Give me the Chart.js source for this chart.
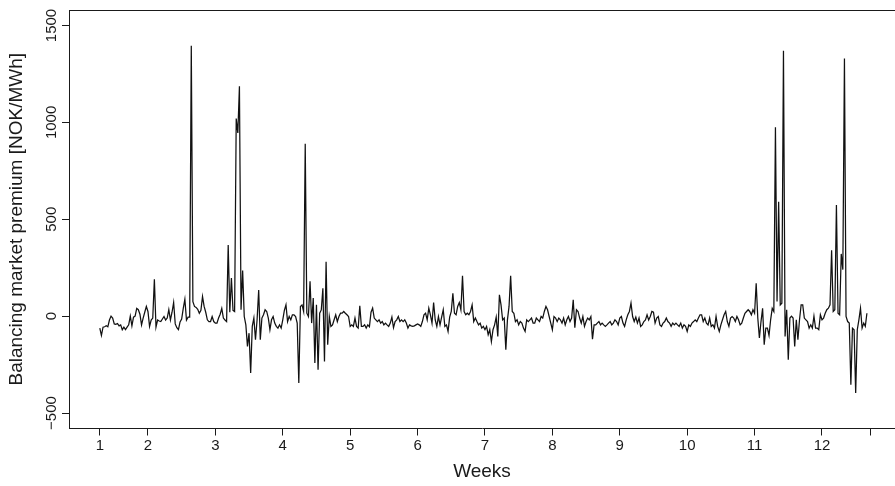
<!DOCTYPE html>
<html>
<head>
<meta charset="utf-8">
<script src="https://cdn.jsdelivr.net/npm/chart.js@4.4.1/dist/chart.umd.min.js"></script>
<style>
  html, body { margin: 0; padding: 0; background: #fff; overflow: hidden; }
</style>
</head>
<body>
<canvas id="chart" width="895" height="486"></canvas>
<script>
// hourly balancing market premium, every 4 hours
const stepHours = 4;
const premium = [
  -62, -100, -57, -55, -50, -55, -20, 0, -10, -40,
  -42, -38, -50, -45, -70, -57, -70, -57, -45, 0,
  -50, -5, 0, 40, 33, 10, -45, -10, 20, 50,
  24, -53, -20, -10, 190, -57, -20, -25, -28, -15,
  -2, -20, -10, 33, -20, 20, 70, -40, -60, -70,
  -30, -15, 40, 87, -20, -5, -5, 1395, 75, 50,
  45, 35, 15, 30, 101, 50, 20, -19, -28, -28,
  -2, -28, -36, -36, -10, 10, 40, -10, -20, -28,
  367, 20, 196, 30, 24, 1020, 945, 1186, 33, 235,
  -2, -45, -156, -88, -293, -53, -10, -122, -19, 135,
  -122, -10, 7, 33, 24, -10, -70, -19, -2, -36,
  -53, -62, -45, -62, -19, 30, 58, -28, -2, -19,
  7, 7, -2, -36, -345, 50, 58, 24, 890, 15,
  -2, 180, -36, 93, -242, 58, -277, 15, 32, 144,
  -234, 281, -148, -2, -53, -45, -19, 7, -28, -2,
  15, 15, 24, 15, 7, -2, -53, -45, -53, -10,
  -53, -62, 53, -53, -53, -45, -62, -45, -55, 20,
  41, -10, -19, -28, -19, -36, -28, -45, -36, -45,
  -53, -36, -5, -60, -28, -19, -2, -28, -19, -28,
  -19, -36, -62, -45, -50, -53, -50, -45, -40, -45,
  -53, -28, 7, 15, -19, 41, 7, -36, 70, -20,
  -53, -2, -45, -5, 33, -53, -45, -79, -5, 24,
  118, 15, 7, 50, 70, 33, 208, 24, 7, 15,
  7, 24, 58, -28, -10, -28, -45, -36, -62, -53,
  -70, -53, -96, -70, -131, -70, -45, -5, -105, 110,
  58, -19, -10, -173, -19, 50, 208, 24, 15, -28,
  -19, -45, -28, -36, -62, -79, -19, -28, -19, -10,
  -36, -36, -10, -19, -28, -2, -10, 24, 50, 33,
  -2, -36, -70, -2, -10, -28, -10, -19, -36, -10,
  -45, -19, -2, -28, -10, 84, -60, 33, 24, -10,
  -36, -2, -53, -28, -10, -19, -2, -119, -45, -45,
  -36, -28, -45, -36, -45, -53, -45, -36, -28, -45,
  -36, -19, -28, -45, -10, -2, -36, -53, -19, 7,
  24, 67, -2, -28, -5, -36, -10, -53, -45, -28,
  -20, 7, -20, -2, 24, 20, -36, -10, -2, -45,
  -53, -36, -28, -10, -28, -36, -53, -36, -45, -36,
  -45, -53, -36, -62, -45, -53, -79, -45, -53, -36,
  -28, -19, -28, -10, 7, 7, -28, -10, -36, -45,
  -10, -53, -45, -62, -2, -53, -79, -45, -19, 7,
  24, -28, -53, -10, -2, -10, -28, -2, -19, -45,
  -36, -10, 15, 24, 33, 24, 7, 33, 15, 170,
  -10, -113, -28, 40, -148, -62, -62, -100, -19, 40,
  24, 975, 75, 590, 58, 67, 1370, -105, 33, -225,
  -10, 0, -10, -156, -19, -122, -19, 58, 58, -10,
  -19, -28, -62, -45, -62, 0, -62, -62, -70, 7,
  -19, -10, 15, 33, 41, 58, 340, 24, 33, 573,
  15, 7, 321, 240, 1330, -2, -28, -36, -354, -62,
  -70, -397, -70, -19, 41, -62, -36, -53, 15
];

// week boundaries in hours since the first observation
const weekTicks = [0, 120, 288, 456, 624, 792, 960, 1128, 1296, 1464, 1632, 1800, 1920];
const weekLabels = ["1", "2", "3", "4", "5", "6", "7", "8", "9", "10", "11", "12", ""];

const yTicks = [-500, 0, 500, 1000, 1500];
const yTickLabels = ["\u2212500", "0", "500", "1000", "1500"];

const ink = "#1a1a1a";
const fontFamily = "'Liberation Sans', Arial, sans-serif";

const points = premium.map((v, i) => ({ x: i * stepHours, y: v }));

// top edge of the box and the rotated y tick labels (R style)
const framePlugin = {
    id: "frame",
    afterDraw(chart) {
        const { ctx, chartArea: a, scales } = chart;
        ctx.save();
        ctx.strokeStyle = ink;
        ctx.lineWidth = 1;
        ctx.beginPath();
        ctx.moveTo(a.left, Math.round(a.top) + 0.5);
        ctx.lineTo(a.right, Math.round(a.top) + 0.5);
        ctx.stroke();

        ctx.fillStyle = ink;
        ctx.font = "15px " + fontFamily;
        ctx.textAlign = "center";
        ctx.textBaseline = "middle";
        yTicks.forEach((v, k) => {
            ctx.save();
            ctx.translate(52, scales.y.getPixelForValue(v));
            ctx.rotate(-Math.PI / 2);
            ctx.fillText(yTickLabels[k], 0, 0);
            ctx.restore();
        });
        ctx.restore();
    }
};

new Chart(document.getElementById("chart"), {
    type: "line",
    data: {
        datasets: [
            {
                label: "Balancing market premium",
                data: points,
                borderColor: "#111",
                borderWidth: 1.25,
                pointRadius: 0,
                tension: 0,
                fill: false
            }
        ]
    },
    options: {
        responsive: false,
        animation: false,
        devicePixelRatio: 1,
        layout: { padding: { top: 10, left: 0, right: 0, bottom: 0 }, autoPadding: false },
        plugins: { legend: { display: false }, tooltip: { enabled: false } },
        scales: {
            x: {
                type: "linear",
                min: -76.8,
                max: 1982,
                afterBuildTicks: s => { s.ticks = weekTicks.map(v => ({ value: v })); },
                afterFit: s => { s.height = 57.5; },
                ticks: {
                    autoSkip: false,
                    maxRotation: 0,
                    padding: 1,
                    color: ink,
                    font: { family: fontFamily, size: 15 },
                    callback: (v, i) => weekLabels[i]
                },
                grid: { drawOnChartArea: false, tickLength: 7, color: ink },
                border: { color: ink },
                title: {
                    display: true,
                    text: "Weeks",
                    color: ink,
                    font: { family: fontFamily, size: 19 },
                    padding: { top: 0, bottom: 3 }
                }
            },
            y: {
                min: -580,
                max: 1580,
                afterBuildTicks: s => { s.ticks = yTicks.map(v => ({ value: v })); },
                afterFit: s => { s.width = 69; },
                ticks: { display: false },
                grid: { drawOnChartArea: false, tickLength: 7, color: ink },
                border: { color: ink },
                title: {
                    display: true,
                    text: "Balancing market premium [NOK/MWh]",
                    color: ink,
                    font: { family: fontFamily, size: 19 },
                    padding: { top: 5, bottom: 0 }
                }
            }
        }
    },
    plugins: [framePlugin]
});
</script>
</body>
</html>
